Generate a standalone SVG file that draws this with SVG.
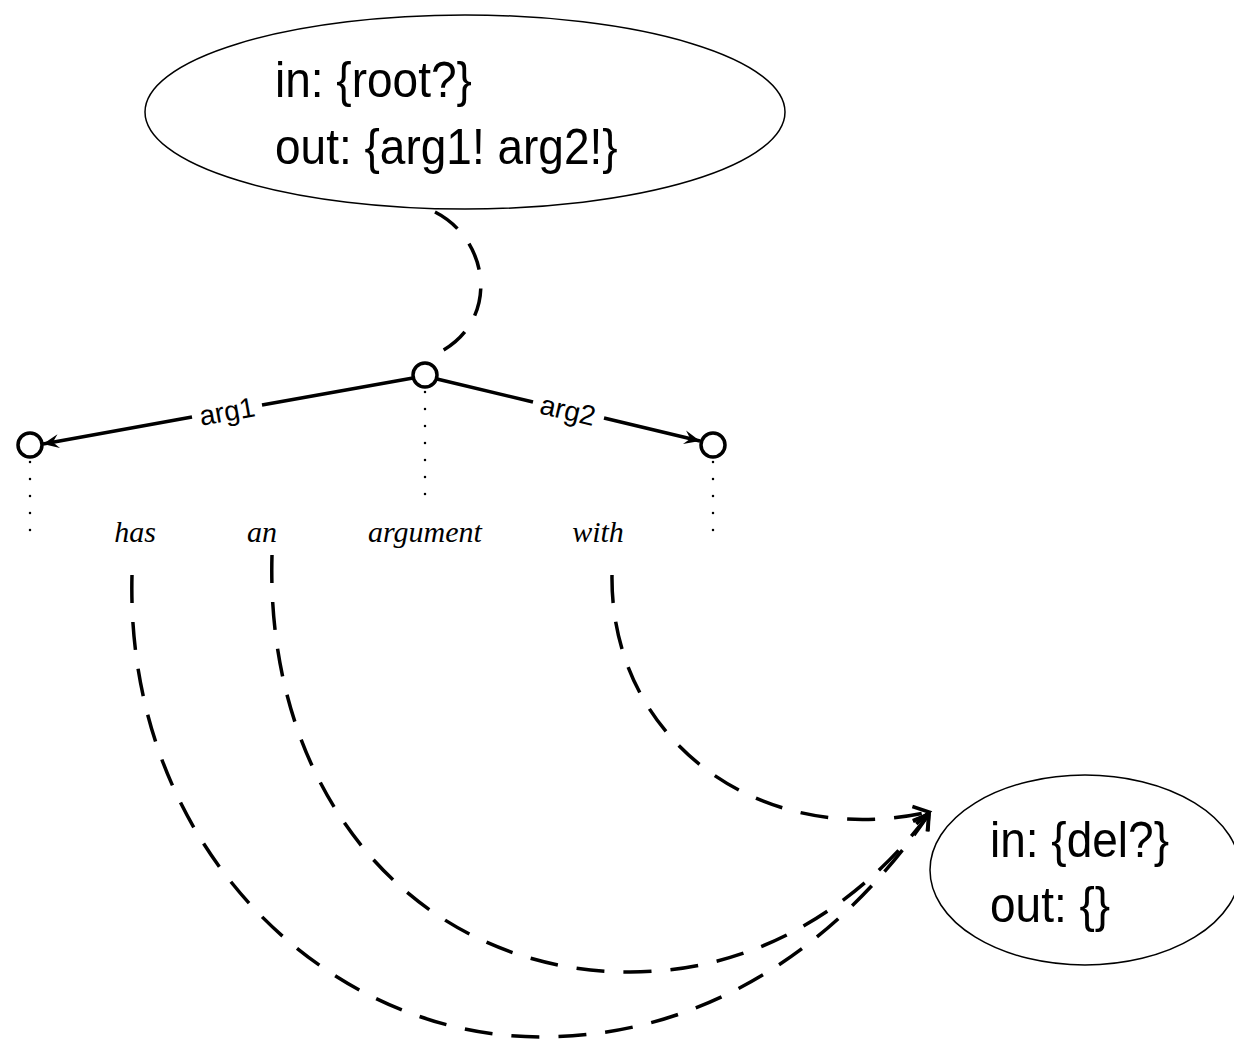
<svg xmlns="http://www.w3.org/2000/svg" width="1234" height="1045" viewBox="0 0 1234 1045">
<defs>
<style>
.ell{fill:none;stroke:#000;stroke-width:1.5}
.big{font-family:"Liberation Sans",Arial,sans-serif;font-size:46px;fill:#000}
.lbl{font-family:"Liberation Sans",Arial,sans-serif;font-size:28px;fill:#000}
.word{font-family:"Liberation Serif","Times New Roman",serif;font-style:italic;font-size:30px;fill:#000}
.node{fill:#fff;stroke:#000;stroke-width:3.5}
.edge{fill:none;stroke:#000;stroke-width:3.5}
.dash{fill:none;stroke:#000;stroke-width:3.5;stroke-dasharray:28 19}
.dot{fill:none;stroke:#000;stroke-width:2.5;stroke-linecap:round;stroke-dasharray:0 17}
</style>
<marker id="solidhead" markerUnits="userSpaceOnUse" markerWidth="18" markerHeight="16" refX="16" refY="8" orient="auto">
<path d="M0,1 L16,8 L0,15 L6,8 Z" fill="#000"/>
</marker>
<marker id="openhead" markerUnits="userSpaceOnUse" markerWidth="22" markerHeight="22" refX="17" refY="11" orient="auto">
<path d="M2,2 L17,11 L2,20" fill="none" stroke="#000" stroke-width="3.5"/>
</marker>
</defs>

<g id="connectors">
<path class="dash" d="M435,212 C490,240 500,320 440,352"/>
<path class="dash" d="M612,575 C610,740 760,850 929,812" marker-end="url(#openhead)"/>
<path class="dash" d="M272,555 C265,800 420,972 630,972 C780,972 880,880 929,814" marker-end="url(#openhead)"/>
<path class="dash" d="M132,575 C125,850 330,1037 540,1037 C720,1037 850,930 929,814" marker-end="url(#openhead)"/>
<line class="edge" x1="413" y1="378" x2="262" y2="405"/>
<line class="edge" x1="192" y1="417" x2="43" y2="444" marker-end="url(#solidhead)"/>
<line class="edge" x1="437" y1="379" x2="533" y2="402"/>
<line class="edge" x1="604" y1="418" x2="700" y2="441" marker-end="url(#solidhead)"/>
<text class="lbl" x="227" y="421" text-anchor="middle" transform="rotate(-10.1 227 411)">arg1</text>
<text class="lbl" x="568" y="420" text-anchor="middle" transform="rotate(13.3 568 410)">arg2</text>
<line class="dot" x1="30" y1="462" x2="30" y2="535"/>
<line class="dot" x1="425" y1="392" x2="425" y2="510"/>
<line class="dot" x1="713" y1="462" x2="713" y2="535"/>
</g>

<g id="top-state">
<ellipse class="ell" cx="465" cy="112" rx="320" ry="97"/>
<text class="big" x="275" y="97" transform="translate(275 97) scale(1 1.1) translate(-275 -97)">in: {root?}</text>
<text class="big" x="275" y="164" transform="translate(275 164) scale(1 1.1) translate(-275 -164)">out: {arg1! arg2!}</text>
</g>

<g id="del-state">
<ellipse class="ell" cx="1085" cy="870" rx="155" ry="95"/>
<text class="big" x="990" y="857" transform="translate(990 857) scale(1 1.1) translate(-990 -857)">in: {del?}</text>
<text class="big" x="990" y="922" transform="translate(990 922) scale(1 1.1) translate(-990 -922)">out: {}</text>
</g>

<g id="node-root"><circle class="node" cx="425" cy="375" r="12"/></g>
<g id="node-arg1"><circle class="node" cx="30" cy="445" r="12"/></g>
<g id="node-arg2"><circle class="node" cx="713" cy="445" r="12"/></g>

<g id="words">
<text class="word" x="135" y="542" text-anchor="middle">has</text>
<text class="word" x="262" y="542" text-anchor="middle">an</text>
<text class="word" x="425" y="542" text-anchor="middle">argument</text>
<text class="word" x="598" y="542" text-anchor="middle">with</text>
</g>
</svg>
